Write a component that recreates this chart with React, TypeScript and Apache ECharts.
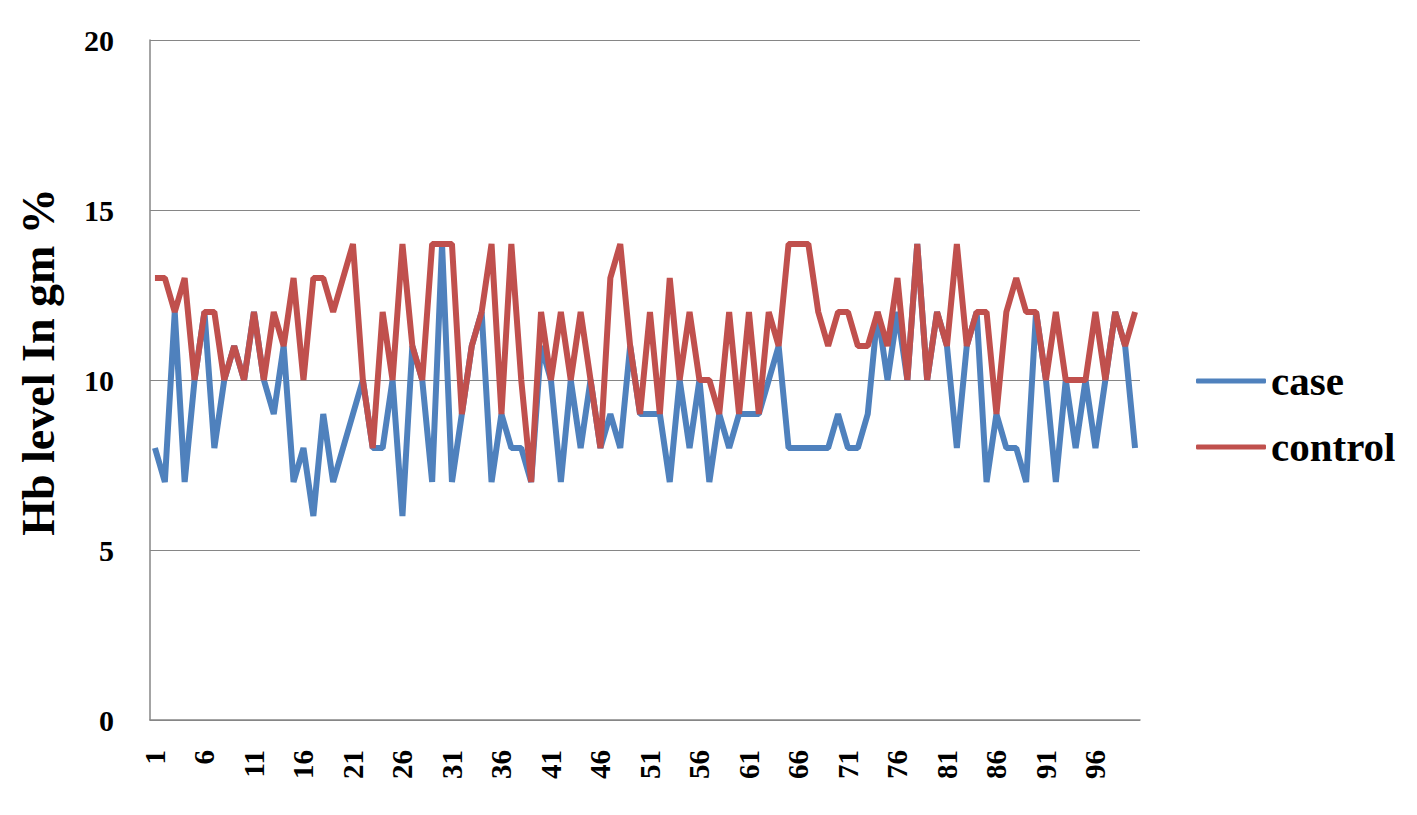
import React, { useEffect, useRef } from "react";
import * as echarts from "echarts";

const categories: string[] = Array.from({ length: 100 }, (_, i) => String(i + 1));

const caseValues: number[] = [
  8, 7, 12, 7, 10, 12, 8, 10, 11, 10,
  12, 10, 9, 11, 7, 8, 6, 9, 7, 8,
  9, 10, 8, 8, 10, 6, 11, 10, 7, 14,
  7, 9, 11, 12, 7, 9, 8, 8, 7, 11,
  10, 7, 10, 8, 10, 8, 9, 8, 11, 9,
  9, 9, 7, 10, 8, 10, 7, 9, 8, 9,
  9, 9, 10, 11, 8, 8, 8, 8, 8, 9,
  8, 8, 9, 12, 10, 12, 10, 14, 10, 12,
  11, 8, 11, 12, 7, 9, 8, 8, 7, 12,
  10, 7, 10, 8, 10, 8, 10, 12, 11, 8,
];

const controlValues: number[] = [
  13, 13, 12, 13, 10, 12, 12, 10, 11, 10,
  12, 10, 12, 11, 13, 10, 13, 13, 12, 13,
  14, 10, 8, 12, 10, 14, 11, 10, 14, 14,
  14, 9, 11, 12, 14, 9, 14, 10, 7, 12,
  10, 12, 10, 12, 10, 8, 13, 14, 11, 9,
  12, 9, 13, 10, 12, 10, 10, 9, 12, 9,
  12, 9, 12, 11, 14, 14, 14, 12, 11, 12,
  12, 11, 11, 12, 11, 13, 10, 14, 10, 12,
  11, 14, 11, 12, 12, 9, 12, 13, 12, 12,
  10, 12, 10, 10, 10, 12, 10, 12, 11, 12,
];

const seriesNames: string[] = ["case", "control"];
const yTicks = { min: 0, max: 20, interval: 5 };
const yAxisTitle = "Hb level In gm %";

const FONT = "'Liberation Serif', 'Times New Roman', serif";

export default function App() {
  const ref = useRef<HTMLDivElement>(null);

  useEffect(() => {
    if (!ref.current) return;
    const chart = echarts.init(ref.current, undefined, { renderer: "svg" });
    chart.setOption({
      animation: false,
      backgroundColor: "#ffffff",
      color: ["#4F81BD", "#C0504D"],
      grid: { left: 150, top: 40, right: 277, bottom: 95, containLabel: false },
      legend: {
        orient: "vertical",
        left: 1191,
        top: 354,
        itemGap: 22,
        itemWidth: 70,
        itemHeight: 5,
        icon: "roundRect",
        data: seriesNames,
        textStyle: {
          fontFamily: FONT,
          fontWeight: "bold",
          fontSize: 41,
          lineHeight: 44,
          color: "#000",
        },
      },
      xAxis: {
        type: "category",
        data: categories,
        boundaryGap: true,
        axisLine: { show: true, lineStyle: { color: "#868686", width: 1.5 } },
        axisTick: { show: false },
        axisLabel: {
          interval: 4,
          rotate: 90,
          margin: 30,
          fontFamily: FONT,
          fontWeight: "bold",
          fontSize: 29,
          color: "#000",
        },
        splitLine: { show: false },
      },
      yAxis: {
        type: "value",
        min: yTicks.min,
        max: yTicks.max,
        interval: yTicks.interval,
        axisLine: { show: true, lineStyle: { color: "#868686", width: 1.5 } },
        axisTick: { show: false },
        axisLabel: {
          margin: 36,
          fontFamily: FONT,
          fontWeight: "bold",
          fontSize: 30,
          color: "#000",
        },
        splitLine: { show: true, lineStyle: { color: "#868686", width: 1 } },
      },
      graphic: [
        {
          type: "text",
          x: 38,
          y: 362,
          rotation: Math.PI / 2,
          style: {
            text: yAxisTitle,
            fontFamily: FONT,
            fontWeight: "bold",
            fontSize: 46,
            fill: "#000",
            align: "center",
            verticalAlign: "middle",
          },
        },
      ],
      series: [
        {
          name: seriesNames[0],
          type: "line",
          data: caseValues,
          symbol: "none",
          lineStyle: { width: 6, color: "#4F81BD" },
          itemStyle: { color: "#4F81BD" },
        },
        {
          name: seriesNames[1],
          type: "line",
          data: controlValues,
          symbol: "none",
          lineStyle: { width: 6, color: "#C0504D" },
          itemStyle: { color: "#C0504D" },
        },
      ],
    });
    return () => chart.dispose();
  }, []);

  return (
    <div
      ref={ref}
      style={{ position: "fixed", left: 0, top: 0, width: 1417, height: 815 }}
    />
  );
}
